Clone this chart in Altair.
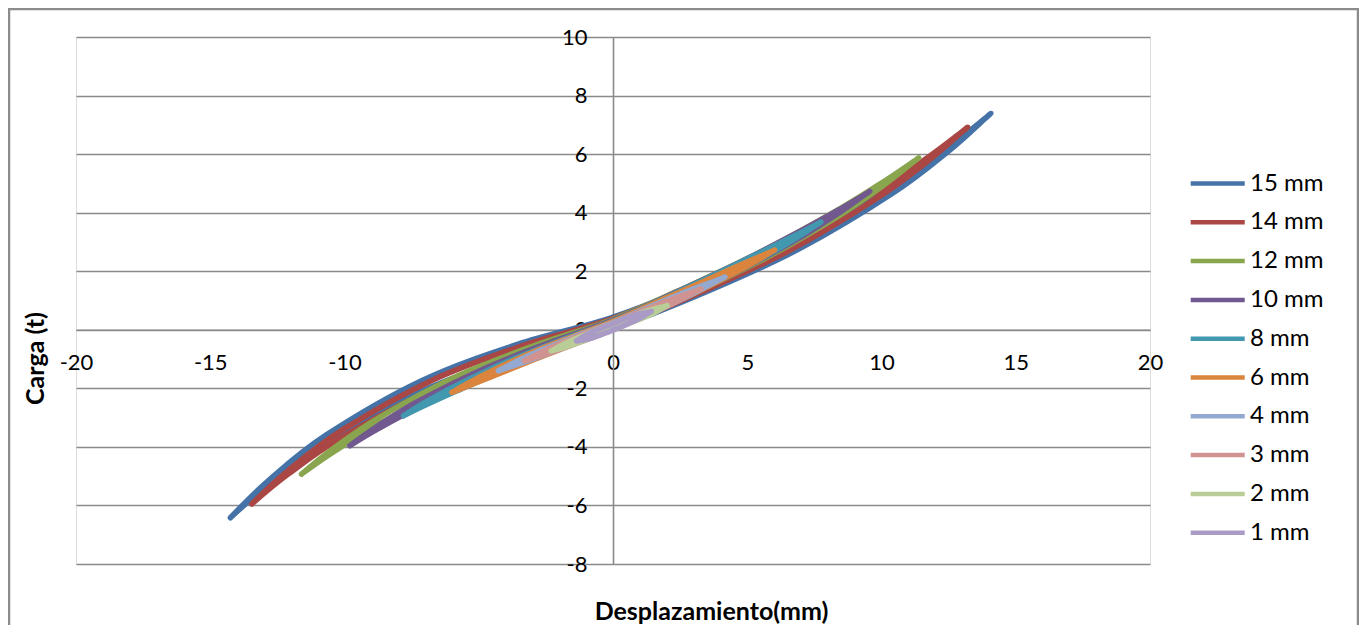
import altair as alt
import pandas as pd

series = ["15 mm", "14 mm", "12 mm", "10 mm", "8 mm", "6 mm", "4 mm", "3 mm", "2 mm", "1 mm"]
colors = ["#4572A7", "#AA4643", "#89A54E", "#71588F", "#4198AF",
          "#DB843D", "#93A9CF", "#D19392", "#B9CD96", "#A99BC6"]

x_ticks = [-20, -15, -10, -5, 0, 5, 10, 15, 20]
y_ticks = [-8, -6, -4, -2, 0, 2, 4, 6, 8, 10]

# each loop: x positions (negative tip -> positive tip), upper branch y (same order),
# lower branch y (positive tip -> negative tip)
x15 = [-14.25, -12.83, -10.69, -7.13, -3.56, 0.0, 3.48, 6.95, 10.43, 12.51, 13.9]
up15 = [-6.42, -5.15, -3.60, -1.74, -0.50, 0.43, 1.68, 3.13, 4.94, 6.25, 7.25]
lo15 = [7.25, 6.11, 4.67, 2.77, 1.30, 0.05, -0.88, -2.10, -3.87, -5.29, -6.42]

x14 = [-13.45, -12.11, -10.09, -6.73, -3.36, 0.0, 3.26, 6.53, 9.79, 11.75, 13.05]
up14 = [-5.95, -4.82, -3.43, -1.72, -0.54, 0.39, 1.62, 3.01, 4.70, 5.90, 6.80]
lo14 = [6.80, 5.78, 4.47, 2.69, 1.28, 0.05, -0.88, -2.04, -3.67, -4.94, -5.95]

x12 = [-11.6, -10.44, -8.70, -5.80, -2.90, 0.0, 2.81, 5.63, 8.44, 10.13, 11.25]
up12 = [-4.93, -4.07, -2.99, -1.58, -0.53, 0.36, 1.49, 2.72, 4.13, 5.09, 5.78]
lo12 = [5.78, 4.97, 3.91, 2.42, 1.17, 0.04, -0.85, -1.89, -3.21, -4.19, -4.93]

x10 = [-9.8, -8.82, -7.35, -4.90, -2.45, 0.0, 2.36, 4.73, 7.09, 8.51, 9.45]
up10 = [-3.96, -3.32, -2.49, -1.37, -0.47, 0.33, 1.29, 2.31, 3.43, 4.15, 4.66]
lo10 = [4.66, 4.05, 3.22, 2.03, 0.99, 0.03, -0.77, -1.65, -2.70, -3.42, -3.96]

x8 = [-7.8, -7.02, -5.85, -3.90, -1.95, 0.0, 1.91, 3.83, 5.74, 6.89, 7.65]
up8 = [-2.94, -2.49, -1.91, -1.07, -0.36, 0.30, 1.08, 1.90, 2.75, 3.27, 3.63]
lo8 = [3.63, 3.17, 2.55, 1.63, 0.81, 0.02, -0.64, -1.33, -2.10, -2.59, -2.94]

x6 = [-6.0, -5.40, -4.50, -3.00, -1.50, 0.0, 1.49, 2.98, 4.46, 5.36, 5.95]
up6 = [-2.14, -1.82, -1.40, -0.77, -0.23, 0.29, 0.89, 1.49, 2.10, 2.46, 2.69]
lo6 = [2.69, 2.36, 1.91, 1.22, 0.61, 0.01, -0.51, -1.04, -1.59, -1.92, -2.14]

x4 = [-4.27, -2.99, -1.49, 0.0, 1.41, 2.81, 4.02]
up4 = [-1.40, -0.82, -0.26, 0.25, 0.80, 1.33, 1.74]
lo4 = [1.74, 1.15, 0.56, 0.01, -0.50, -1.00, -1.40]

x3 = [-3.3, -2.31, -1.16, 0.0, 1.11, 2.21, 3.16]
up3 = [-1.06, -0.61, -0.17, 0.23, 0.65, 1.05, 1.35]
lo3 = [1.35, 0.89, 0.43, 0.01, -0.39, -0.77, -1.06]

x2 = [-2.3, -1.61, -0.81, 0.0, 0.68, 1.37, 1.95]
up2 = [-0.72, -0.39, -0.08, 0.21, 0.45, 0.67, 0.80]
lo2 = [0.80, 0.51, 0.25, 0.01, -0.28, -0.54, -0.72]

x1 = [-1.36, -0.95, -0.48, 0.0, 0.48, 0.97, 1.38]
up1 = [-0.38, -0.15, 0.04, 0.21, 0.39, 0.54, 0.61]
lo1 = [0.61, 0.38, 0.17, -0.01, -0.18, -0.32, -0.38]

loops = {
    "15 mm": (x15, up15, lo15), "14 mm": (x14, up14, lo14), "12 mm": (x12, up12, lo12),
    "10 mm": (x10, up10, lo10), "8 mm": (x8, up8, lo8), "6 mm": (x6, up6, lo6),
    "4 mm": (x4, up4, lo4), "3 mm": (x3, up3, lo3), "2 mm": (x2, up2, lo2),
    "1 mm": (x1, up1, lo1),
}

rows = []
for name, (xs, up, lo) in loops.items():
    pts = list(zip(xs, up)) + list(zip(xs[::-1], lo))
    for i, (a, b) in enumerate(pts):
        rows.append({"serie": name, "i": i, "desp": a, "carga": b})
df = pd.DataFrame(rows)

FONT = "Lato"
GRID = "#8A8A8A"
W, H = 1074, 527
x0_px = W * 20 / 40
y0_px = H * 10 / 18

xaxis = alt.Axis(values=x_ticks, grid=False, ticks=False, domainColor=GRID, domainWidth=1.6,
                 offset=-(H - y0_px), labelFont=FONT, labelFontSize=22, labelColor="black",
                 labelPadding=23, labelFlush=False, labelOverlap=False,
                 labelExpr="'' + datum.value",
                 title="Desplazamiento(mm)", titleFont=FONT, titleFontSize=25,
                 titleFontWeight="bold", titleColor="black", titleX=635, titleY=290,
                 titleBaseline="alphabetic", titleAlign="center")
yaxis = alt.Axis(values=y_ticks, grid=True, gridColor=GRID, gridWidth=1.6, ticks=False,
                 domainColor=GRID, domainWidth=1.6, offset=-x0_px,
                 labelFont=FONT, labelFontSize=22, labelColor="black", labelPadding=26,
                 labelOverlap=False, labelFlush=False, labelExpr="'' + datum.value",
                 title="Carga (t)", titleFont=FONT, titleFontSize=25, titleFontWeight="bold",
                 titleColor="black", titleX=-578, titleY=321, titleBaseline="middle",
                 titleAlign="center", titleAngle=270)

xscale = alt.Scale(domain=[-20, 20], nice=False, zero=False)
yscale = alt.Scale(domain=[-8, 10], nice=False, zero=False)
color = alt.Color("serie:N", scale=alt.Scale(domain=series, range=colors),
                  legend=alt.Legend(title=None, orient="none", legendX=1112, legendY=133,
                                    symbolType="M-1,0H4", symbolSize=467,
                                    symbolStrokeWidth=4.5, rowPadding=12.8,
                                    labelFont=FONT, labelFontSize=24, labelColor="black",
                                    labelOffset=35))

layers = []
border = alt.Chart(alt.Data(values=[{}])).mark_rect(
    filled=False, stroke="#8C8C8C", strokeWidth=2.5
).encode(x=alt.value(-67), x2=alt.value(1282), y=alt.value(-28), y2=alt.value(700))
layers.append(border)

for s in series:
    layers.append(
        alt.Chart(df).transform_filter(alt.datum.serie == s).mark_line(
            strokeWidth=5.5, strokeCap="round", strokeJoin="round", interpolate="cardinal"
        ).encode(
            x=alt.X("desp:Q", scale=xscale, axis=xaxis),
            y=alt.Y("carga:Q", scale=yscale, axis=yaxis),
            color=color,
            order="i:Q",
        )
    )

chart = alt.layer(*layers).properties(
    width=W, height=H,
    autosize=alt.AutoSizeParams(type="none"),
    padding={"left": 68, "top": 29, "right": 209, "bottom": 61},
).configure_view(stroke=None).configure(background="white")

chart.save("out.html", embed_options={"renderer": "svg", "actions": False})
